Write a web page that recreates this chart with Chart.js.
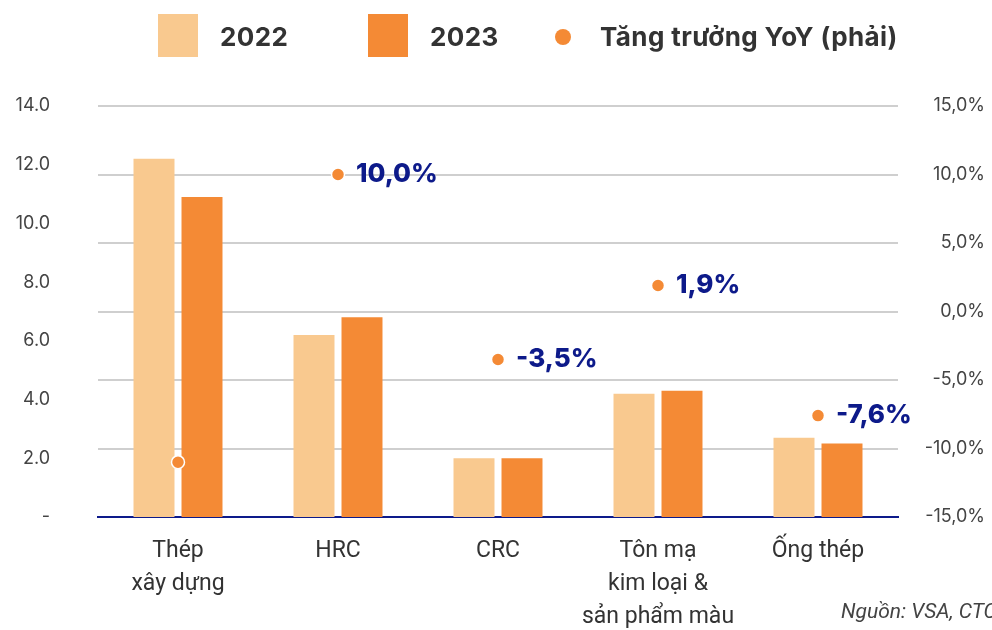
<!DOCTYPE html>
<html>
<head>
<meta charset="utf-8">
<script src="https://cdn.jsdelivr.net/npm/chart.js@4"></script>
<style>
  html, body { margin: 0; padding: 0; background: #fff; overflow: hidden; }
  #wrap { position: relative; width: 992px; height: 630px; overflow: hidden; }
  #myChart { position: absolute; left: 0; top: 0; }
  .lg { position: absolute; font-family: Inter, sans-serif; font-weight: 700; font-size: 26px; letter-spacing: 0.4px; color: #333; line-height: 30px; top: 22px; white-space: nowrap; }
  .box { position: absolute; top: 14px; width: 40px; height: 43px; }
  .dot { position: absolute; width: 16px; height: 16px; border-radius: 50%; background: #F48A35; left: 555px; top: 29px; }
  #src { position: absolute; left: 841px; top: 599px; font-family: Roboto, sans-serif; font-style: italic; font-size: 21px; color: #444; white-space: nowrap; }
</style>
</head>
<body>
<div id="wrap">
  <canvas id="myChart" width="992" height="630"></canvas>
  <div class="box" style="left:158px;background:#F9C98F"></div>
  <div class="lg" style="left:220px">2022</div>
  <div class="box" style="left:368px;background:#F48A35"></div>
  <div class="lg" style="left:430px">2023</div>
  <div class="dot"></div>
  <div class="lg" style="left:600px">Tăng trưởng YoY (phải)</div>
  <div id="src">Nguồn: VSA, CTCK</div>
</div>
<script>
// so lieu doc tu hinh (trieu tan)
const categories = [['Thép', 'xây dựng'], 'HRC', 'CRC', ['Tôn mạ', 'kim loại &', 'sản phẩm màu'], 'Ống thép'];
const values2022 = [12.2, 6.2, 2.0, 4.2, 2.7];
const values2023 = [10.9, 6.8, 2.0, 4.3, 2.5];
const yoyGrowth = [-11.0, 10.0, -3.5, 1.9, -7.6];
const yoyLabels = [null, '10,0%', '-3,5%', '1,9%', '-7,6%'];

const navy = '#0D1A8A';

// ve nhan % ben phai cac diem
const pointLabels = {
    id: 'pointLabels',
    afterDatasetsDraw(chart) {
        const meta = chart.getDatasetMeta(2);
        const c = chart.ctx;
        c.save();
        c.font = '800 26px Inter, sans-serif';
        c.fillStyle = navy;
        c.textAlign = 'left';
        c.textBaseline = 'middle';
        meta.data.forEach((pt, i) => {
            if (yoyLabels[i]) c.fillText(yoyLabels[i], pt.x + 18, pt.y);
        });
        c.restore();
    }
};

const ctx = document.getElementById('myChart');
new Chart(ctx, {
    data: {
        labels: categories,
        datasets: [
            {
                type: 'bar',
                label: '2022',
                data: values2022,
                backgroundColor: '#F9C98F',
                yAxisID: 'y',
                order: 1,
                categoryPercentage: 0.6,
                barPercentage: 0.854
            },
            {
                type: 'bar',
                label: '2023',
                data: values2023,
                backgroundColor: '#F48A35',
                yAxisID: 'y',
                order: 1,
                categoryPercentage: 0.6,
                barPercentage: 0.854
            },
            {
                type: 'line',
                label: 'Tăng trưởng YoY (phải)',
                data: yoyGrowth,
                showLine: false,
                pointRadius: 6.5,
                pointBorderWidth: 1.5,
                pointBorderColor: '#fff',
                pointBackgroundColor: '#F48A35',
                yAxisID: 'y1',
                order: 0
            }
        ]
    },
    options: {
        responsive: false,
        animation: false,
        layout: { padding: { top: 106, right: 7, left: 0, bottom: 0 } },
        plugins: {
            legend: { display: false },
            tooltip: { enabled: false }
        },
        scales: {
            x: {
                grid: { display: false, drawTicks: false },
                border: { display: true, color: navy, width: 2 },
                ticks: {
                    color: '#333',
                    font: { family: 'Roboto, sans-serif', size: 23, lineHeight: 1.43 },
                    padding: 18,
                    maxRotation: 0,
                    autoSkip: false
                },
                afterFit: (scale) => { scale.height = 113; }
            },
            y: {
                position: 'left',
                min: 0,
                max: 14,
                grid: { display: false, drawTicks: false },
                border: { display: false },
                ticks: {
                    stepSize: 2,
                    color: '#444',
                    padding: 48,
                    font: { family: 'Inter, sans-serif', size: 18 },
                    callback: (v) => v === 0 ? '-' : v.toFixed(1)
                },
                afterFit: (scale) => { scale.width = 98; }
            },
            y1: {
                position: 'right',
                min: -15,
                max: 15,
                grid: {
                    drawTicks: false,
                    color: (c) => c.tick && c.tick.value === -15 ? navy : '#cfcfcf',
                    lineWidth: 2
                },
                border: { display: false },
                ticks: {
                    stepSize: 5,
                    color: '#444',
                    crossAlign: 'far',
                    font: { family: 'Inter, sans-serif', size: 18 },
                    callback: (v) => v.toFixed(1).replace('.', ',') + '%'
                },
                afterFit: (scale) => { scale.width = 87; }
            }
        }
    },
    plugins: [pointLabels]
});
</script>
</body>
</html>
